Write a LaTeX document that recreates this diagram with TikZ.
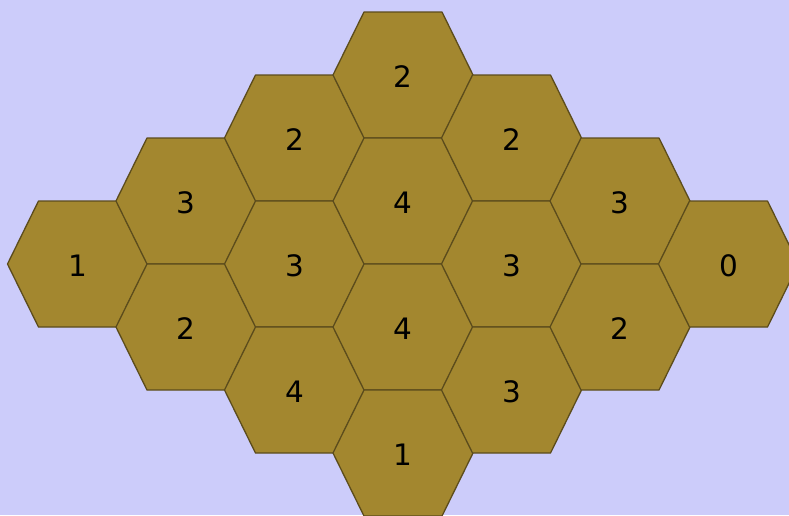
\documentclass[tikz,border=0pt]{standalone}
\usepackage{fontspec}
\setmainfont{DejaVu Sans}
\usepackage{tikz}
\usetikzlibrary{positioning}
\definecolor{sky}{HTML}{CCCCFA}
\definecolor{gold}{HTML}{A3872F}
\definecolor{rim}{HTML}{5C4C1C}

\begin{document}
\begin{tikzpicture}[x=1pt, y=-1pt,
    cell/.style={fill=gold, draw=rim, line width=1.3pt, line join=round},
    num/.style={font=\fontsize{29.5}{36}\selectfont, text=black, inner sep=0pt, yshift=-2pt}
  ]
    \useasboundingbox (0,0) rectangle (789,515);
    \clip (0,0) rectangle (789,515);
    \fill[sky] (0,0) rectangle (789,515);
    % cells: x / y / name / value
    \foreach \x/\y/\n/\v in {
        77.5/264/a1/1,
        186/201/b1/3, 186/327/b2/2,
        294.5/138/c1/2, 294.5/264/c2/3, 294.5/390/c3/4,
        403/75/d1/2, 403/201/d2/4, 403/327/d3/4, 403/453/d4/1,
        511.5/138/e1/2, 511.5/264/e2/3, 511.5/390/e3/3,
        620/201/f1/3, 620/327/f2/2,
        728.5/264/g1/0}{
      \draw[cell] (\x,\y) +(-70,0) -- +(-39,-63) -- +(39,-63)
        -- +(70,0) -- +(39,63) -- +(-39,63) -- cycle;
      \node[num] (\n) at (\x,\y) {\v};
    }
  \end{tikzpicture}
\end{document}
